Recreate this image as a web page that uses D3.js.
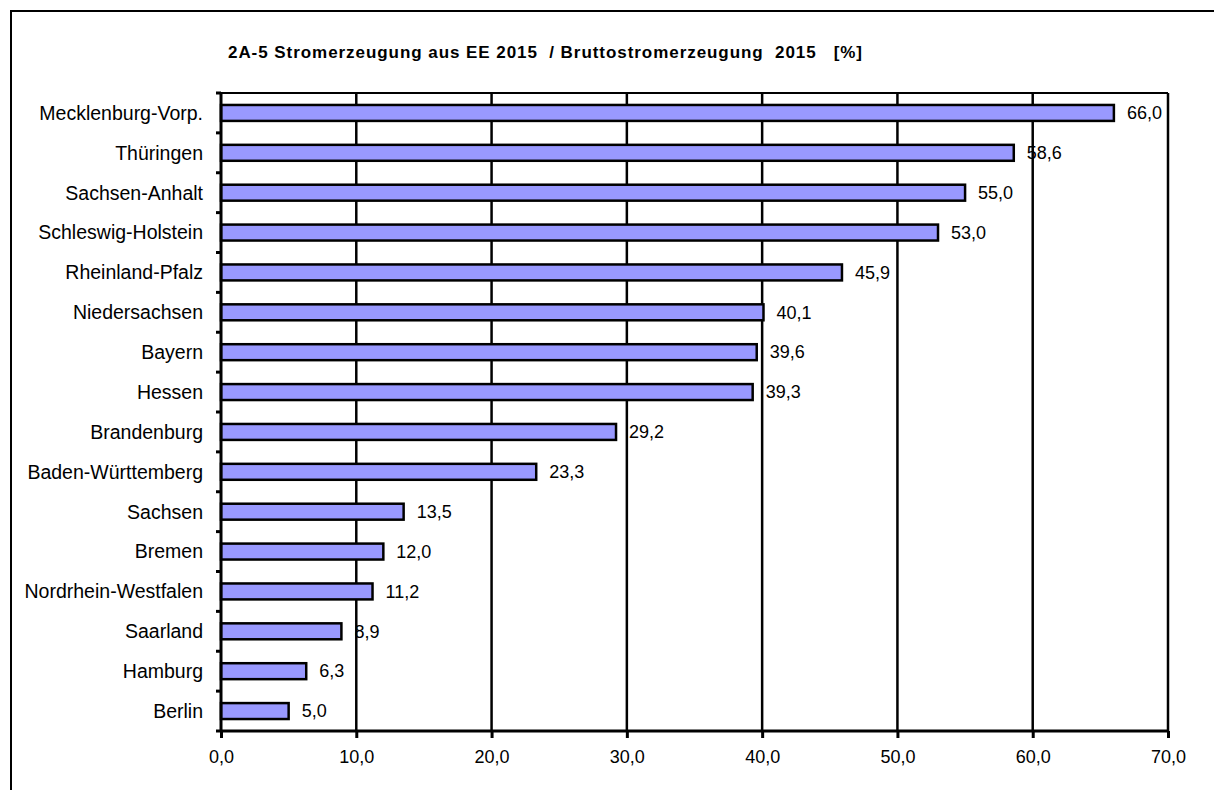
<!DOCTYPE html>
<html><head><meta charset="utf-8">
<script src="https://cdn.jsdelivr.net/npm/d3@7"></script>
<style>body{margin:0;background:#fff}svg{display:block}text{font-family:"Liberation Sans",Arial,sans-serif}</style>
</head><body>
<svg id="c" width="1214" height="790"></svg>
<script>
const categories = ["Mecklenburg-Vorp.","Thüringen","Sachsen-Anhalt","Schleswig-Holstein","Rheinland-Pfalz","Niedersachsen","Bayern","Hessen","Brandenburg","Baden-Württemberg","Sachsen","Bremen","Nordrhein-Westfalen","Saarland","Hamburg","Berlin"];
const values = [66.0,58.6,55.0,53.0,45.9,40.1,39.6,39.3,29.2,23.3,13.5,12.0,11.2,8.9,6.3,5.0];
const tickValues = [0,10,20,30,40,50,60,70];
const title = "2A-5 Stromerzeugung aus EE 2015  / Bruttostromerzeugung  2015   [%]";

const svg = d3.select("#c");
const fmt = v => v.toFixed(1).replace(".", ",");
const m = {l:221, r:1168, t:93, b:731};

// outer frame (top + left visible)
svg.append("path").attr("d","M11,790 V11 H1214").attr("fill","none").attr("stroke","#000").attr("stroke-width",2);

svg.append("text").attr("x",228).attr("y",58).attr("font-size",17).attr("font-weight","bold")
  .style("white-space","pre").attr("textLength",634).attr("lengthAdjust","spacing").text(title);

const x = d3.scaleLinear().domain([0,70]).range([m.l,m.r]);
const y = d3.scaleBand().domain(categories).range([m.t,m.b]).paddingInner(0.6).paddingOuter(0.3);
const yb = d3.scaleBand().domain(categories).range([m.t,m.b]);

// gridlines
svg.append("g").selectAll("line").data(tickValues.slice(1)).join("line")
  .attr("x1",d=>x(d)).attr("x2",d=>x(d)).attr("y1",m.t).attr("y2",m.b)
  .attr("stroke","#000").attr("stroke-width",2.5);
// top line
svg.append("line").attr("x1",m.l).attr("x2",m.r).attr("y1",m.t).attr("y2",m.t).attr("stroke","#000").attr("stroke-width",2);

// bars
svg.append("g").selectAll("rect").data(values).join("rect")
  .attr("x",x(0)).attr("y",(d,i)=>y(categories[i]))
  .attr("width",d=>x(d)-x(0)).attr("height",y.bandwidth())
  .attr("fill","#9999FF").attr("stroke","#000").attr("stroke-width",2.5);

// value labels
svg.append("g").selectAll("text").data(values).join("text")
  .attr("x",d=>x(d)+13).attr("y",(d,i)=>y(categories[i])+y.bandwidth()/2)
  .attr("dy","0.35em").attr("font-size",18).attr("fill","#000").text(fmt);

// x axis
const xa = svg.append("g").attr("transform",`translate(0,${m.b})`)
  .call(d3.axisBottom(x).tickValues(tickValues).tickSize(7).tickPadding(12).tickFormat(fmt));
xa.attr("font-size",null);
xa.select(".domain").attr("stroke","#000").attr("stroke-width",3).attr("d",`M${m.l},0H${m.r}`);
xa.selectAll(".tick line").attr("stroke","#000").attr("stroke-width",3);
xa.selectAll("text").attr("font-size",18).attr("fill","#000");

// y axis
const ya = svg.append("g").attr("transform",`translate(${m.l},0)`);
ya.append("line").attr("x1",0).attr("x2",0).attr("y1",m.t).attr("y2",m.b).attr("stroke","#000").attr("stroke-width",3);
const bounds = categories.map(c=>yb(c)).concat([m.b]);
ya.selectAll("line.t").data(bounds).join("line").attr("class","t")
  .attr("x1",-5).attr("x2",0).attr("y1",d=>d).attr("y2",d=>d).attr("stroke","#000").attr("stroke-width",3);
ya.selectAll("text").data(categories).join("text")
  .attr("x",-18).attr("y",d=>yb(d)+yb.bandwidth()/2).attr("dy","0.35em")
  .attr("text-anchor","end").attr("font-size",19.5).attr("fill","#000").text(d=>d);
</script>
</body></html>
